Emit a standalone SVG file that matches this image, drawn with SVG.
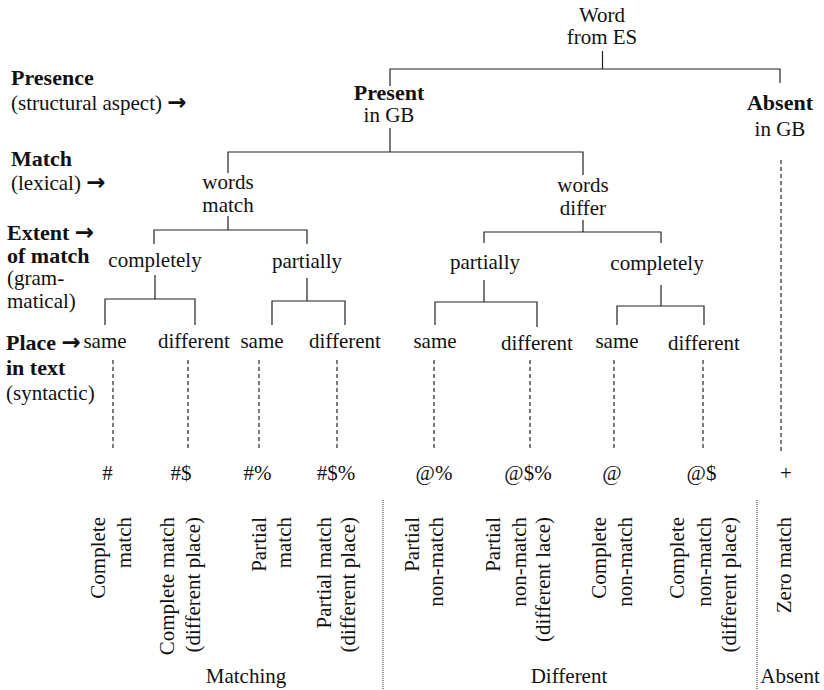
<svg xmlns="http://www.w3.org/2000/svg" width="824" height="690" viewBox="0 0 824 690">
<style>
text{font-family:"Liberation Serif","Times New Roman","DejaVu Serif",serif;font-size:21px;fill:#111}
.b{font-weight:bold;font-size:22px}
.m{text-anchor:middle}
.r{text-anchor:end}
.ar{font-family:"DejaVu Sans",sans-serif;font-weight:bold;font-size:23px}
.ln{stroke:#222;stroke-width:1.2;fill:none}
.ds{stroke:#222;stroke-width:1.2;stroke-dasharray:4,3;fill:none}
.dt{stroke:#222;stroke-width:1;stroke-dasharray:1,1;fill:none}
</style>
<defs>
<clipPath id="clipDiff"><rect x="480" y="320" width="93" height="40"/></clipPath>
</defs>
<rect width="824" height="690" fill="#fff"/>

<g id="legend">
<text x="11" y="85" class="b">Presence</text>
<text x="11" y="110">(structural aspect) <tspan class="ar">→</tspan></text>
<text x="11" y="166" class="b">Match</text>
<text x="11" y="190">(lexical) <tspan class="ar">→</tspan></text>
<text x="7" y="240" class="b">Extent <tspan class="ar">→</tspan></text>
<text x="7" y="263" class="b">of match</text>
<text x="7" y="285">(gram-</text>
<text x="7" y="308">matical)</text>
<text x="6" y="350" class="b">Place <tspan class="ar">→</tspan></text>
<text x="6" y="375" class="b">in text</text>
<text x="6" y="400">(syntactic)</text>
</g>

<g id="connectors">
<path class="ln" d="M602.5,51V69M390,86V69H780V83"/>
<path class="ln" d="M390,128V152M228,173V152H583V175"/>
<path class="ln" d="M228,216V230M154,244V230H307V244"/>
<path class="ln" d="M583,220V232M484,243V232H661V243"/>
<path class="ln" d="M155,275V299M105,325V299H195V325"/>
<path class="ln" d="M307,278V301M272,325V301H345V325"/>
<path class="ln" d="M484,280V302M435,325V302H537V327"/>
<path class="ln" d="M661,285V306M617,325V306H704V325"/>
<path class="ds" d="M781,160V452"/>
<path class="ds" d="M113,360V450M188,360V450M259,360V450M337,360V450M434,360V450M530,360V450M614,360V450M703,360V450"/>
<path class="dt" d="M383,500V690M757,500V690"/>
</g>

<g id="n-word"><text x="602" y="22" class="m">Word</text><text x="602" y="44" class="m">from ES</text></g>
<g id="n-present"><text x="389" y="100" class="m b">Present</text><text x="389" y="122" class="m">in GB</text></g>
<g id="n-absent"><text x="780" y="110" class="m b">Absent</text><text x="780" y="136" class="m">in GB</text></g>
<g id="n-words-match"><text x="228" y="189" class="m">words</text><text x="228" y="212" class="m">match</text></g>
<g id="n-words-differ"><text x="583" y="192" class="m">words</text><text x="583" y="215" class="m">differ</text></g>
<g id="n-m-completely"><text x="155" y="267" class="m">completely</text></g>
<g id="n-m-partially"><text x="307" y="268" class="m">partially</text></g>
<g id="n-d-partially"><text x="485" y="269" class="m">partially</text></g>
<g id="n-d-completely"><text x="657" y="270" class="m">completely</text></g>
<g id="n-mc-same"><text x="105" y="348" class="m">same</text></g>
<g id="n-mc-diff"><text x="194" y="348" class="m">different</text></g>
<g id="n-mp-same"><text x="262" y="348" class="m">same</text></g>
<g id="n-mp-diff"><text x="345" y="348" class="m">different</text></g>
<g id="n-dp-same"><text x="435" y="348" class="m">same</text></g>
<g id="n-dp-diff"><text x="537" y="350" class="m" clip-path="url(#clipDiff)">different</text></g>
<g id="n-dc-same"><text x="617" y="348" class="m">same</text></g>
<g id="n-dc-diff"><text x="704" y="350" class="m">different</text></g>

<g id="codes">
<text x="107.5" y="480" class="m">#</text>
<text x="181" y="480" class="m">#$</text>
<text x="257.5" y="480" class="m">#%</text>
<text x="336" y="480" class="m">#$%</text>
<text x="434" y="480" class="m">@%</text>
<text x="528" y="480" class="m">@$%</text>
<text x="612" y="480" class="m">@</text>
<text x="701.5" y="480" class="m">@$</text>
<text x="786" y="480" class="m">+</text>
</g>

<g id="labels">
<text transform="translate(105,517) rotate(-90)" class="r">Complete</text>
<text transform="translate(131,517) rotate(-90)" class="r">match</text>
<text transform="translate(174,517) rotate(-90)" class="r">Complete match</text>
<text transform="translate(200,517) rotate(-90)" class="r">(different place)</text>
<text transform="translate(266,517) rotate(-90)" class="r">Partial</text>
<text transform="translate(291,517) rotate(-90)" class="r">match</text>
<text transform="translate(331,517) rotate(-90)" class="r">Partial match</text>
<text transform="translate(355,517) rotate(-90)" class="r">(different place)</text>
<text transform="translate(419,517) rotate(-90)" class="r">Partial</text>
<text transform="translate(443,517) rotate(-90)" class="r">non-match</text>
<text transform="translate(500,517) rotate(-90)" class="r">Partial</text>
<text transform="translate(526,517) rotate(-90)" class="r">non-match</text>
<text transform="translate(550,517) rotate(-90)" class="r">(different lace)</text>
<text transform="translate(606,517) rotate(-90)" class="r">Complete</text>
<text transform="translate(632,517) rotate(-90)" class="r">non-match</text>
<text transform="translate(684,517) rotate(-90)" class="r">Complete</text>
<text transform="translate(711,517) rotate(-90)" class="r">non-match</text>
<text transform="translate(736,517) rotate(-90)" class="r">(different place)</text>
<text transform="translate(791,517) rotate(-90)" class="r">Zero match</text>
</g>

<g id="groups">
<text x="246" y="683" class="m">Matching</text>
<text x="569" y="683" class="m">Different</text>
<text x="790" y="683" class="m">Absent</text>
</g>
</svg>
